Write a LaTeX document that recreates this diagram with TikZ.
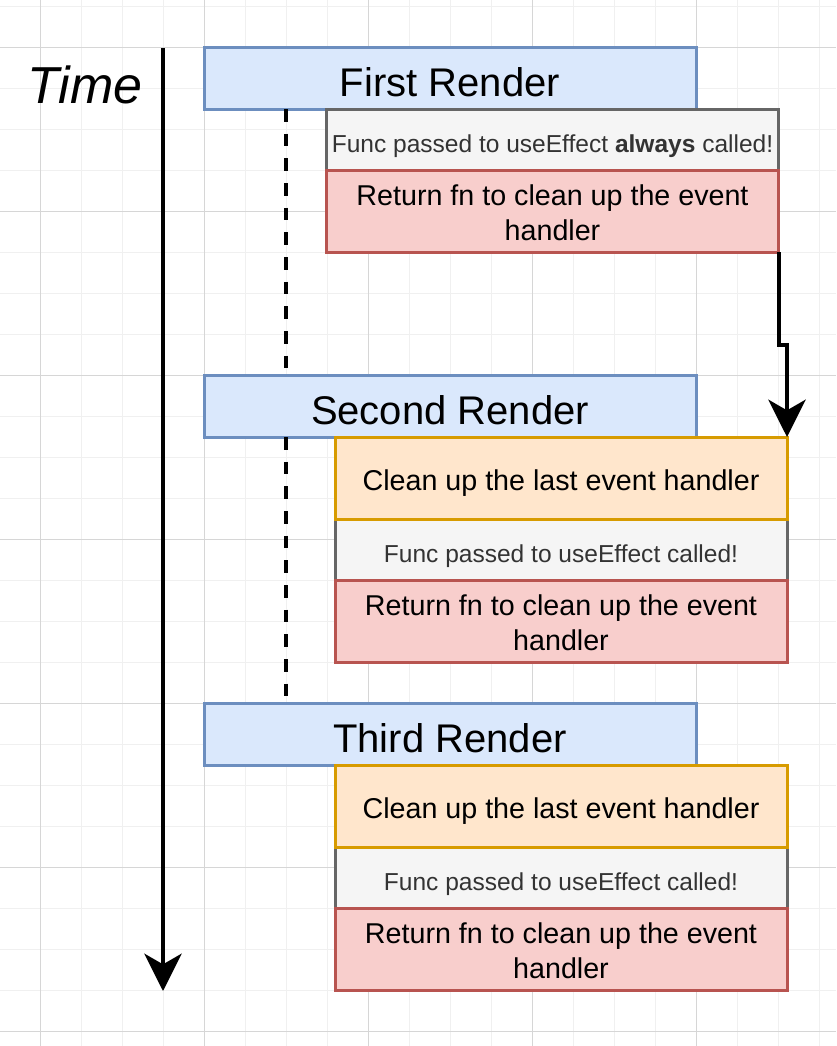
\documentclass[tikz,border=0pt]{standalone}
\usepackage{fontspec}
\setmainfont{Liberation Sans}
\usepackage{xcolor}
\usetikzlibrary{arrows.meta,positioning}

\definecolor{gridmajor}{HTML}{D6D6D6}
\definecolor{gridminor}{HTML}{F0F0F0}
\definecolor{renderfill}{HTML}{DAE8FC}
\definecolor{renderline}{HTML}{6C8EBF}
\definecolor{calledfill}{HTML}{F5F5F5}
\definecolor{calledline}{HTML}{666666}
\definecolor{calledtext}{HTML}{333333}
\definecolor{returnfill}{HTML}{F8CECC}
\definecolor{returnline}{HTML}{B85450}
\definecolor{cleanfill}{HTML}{FFE6CC}
\definecolor{cleanline}{HTML}{D79B00}

\tikzset{
  box/.style={line width=2.25pt, inner sep=0pt, outer sep=0pt, minimum width=339pt},
  render/.style={box, draw=renderline, fill=renderfill, minimum width=369pt, minimum height=46.5pt,
    text height=28pt, text depth=0pt, font=\fontsize{30}{36}\selectfont},
  called/.style={box, draw=calledline, fill=calledfill, text=calledtext, minimum height=45.75pt,
    text height=19.8pt, text depth=0pt, font=\fontsize{18.4}{22}\selectfont},
  cleanup/.style={box, draw=cleanline, fill=cleanfill, minimum height=61.5pt,
    text height=19pt, text depth=0pt, font=\fontsize{21.5}{26}\selectfont},
  returnfn/.style={box, draw=returnline, fill=returnfill, minimum height=61.5pt, align=center,
    text height=43.5pt, text depth=0pt, font=\fontsize{21.5}{26}\selectfont},
  flow/.style={line width=3pt, -{Stealth[length=28pt, width=28pt, inset=8pt]}},
  lifeline/.style={line width=3pt, dash pattern=on 9.5pt off 9pt},
}

\begin{document}
\begin{tikzpicture}[x=0.75pt, y=-0.75pt]
    \useasboundingbox (0,0) rectangle (836,1046);

    \foreach \k in {0,...,20}
        \draw[gridminor, line width=0.75pt] ({-1+41.03*\k},0) -- ++(0,1046);
    \foreach \k in {0,...,25}
        \draw[gridminor, line width=0.75pt] (0,{6+41.03*\k}) -- ++(836,0);
    \foreach \k in {1,5,...,17}
        \draw[gridmajor, line width=0.75pt] ({-1+41.03*\k},0) -- ++(0,1046);
    \foreach \k in {1,5,...,25}
        \draw[gridmajor, line width=0.75pt] (0,{6+41.03*\k}) -- ++(836,0);

    \node (timelabel) at (85, 85) {\fontsize{39}{47}\selectfont\itshape Time};
    \coordinate (timestart) at (163, 48);
    \coordinate (timeend)   at (163, 991);
    \coordinate (lane)      at (286, 0);

    \node[render]   (first)  at (450,   78)   {First Render};
    \node[called]   (call1)  at (552.5, 139.5) {Func passed to useEffect \textbf{always} called!};
    \node[returnfn] (ret1)   at (552.5, 211)   {Return fn to clean up the event\\handler};

    \node[render]   (second) at (450, 406)   {Second Render};
    \node[called]   (call2)  at (561, 549.5) {Func passed to useEffect called!};
    \node[returnfn] (ret2)   at (561, 621)   {Return fn to clean up the event\\handler};
    \node[cleanup]  (clean2) at (561, 478)   {Clean up the last event handler};

    \node[render]   (third)  at (450, 734)   {Third Render};
    \node[called]   (call3)  at (561, 877.5) {Func passed to useEffect called!};
    \node[returnfn] (ret3)   at (561, 949)   {Return fn to clean up the event\\handler};
    \node[cleanup]  (clean3) at (561, 806)   {Clean up the last event handler};

    \draw[flow] (timestart) -- (timeend);
    \draw[lifeline] (lane |- first.south) -- (lane |- second.north);
    \draw[lifeline] (lane |- second.south) -- (lane |- third.north);
    \draw[flow] (ret1.south east) -- ++(0,93) -| (clean2.north east);
\end{tikzpicture}
\end{document}
